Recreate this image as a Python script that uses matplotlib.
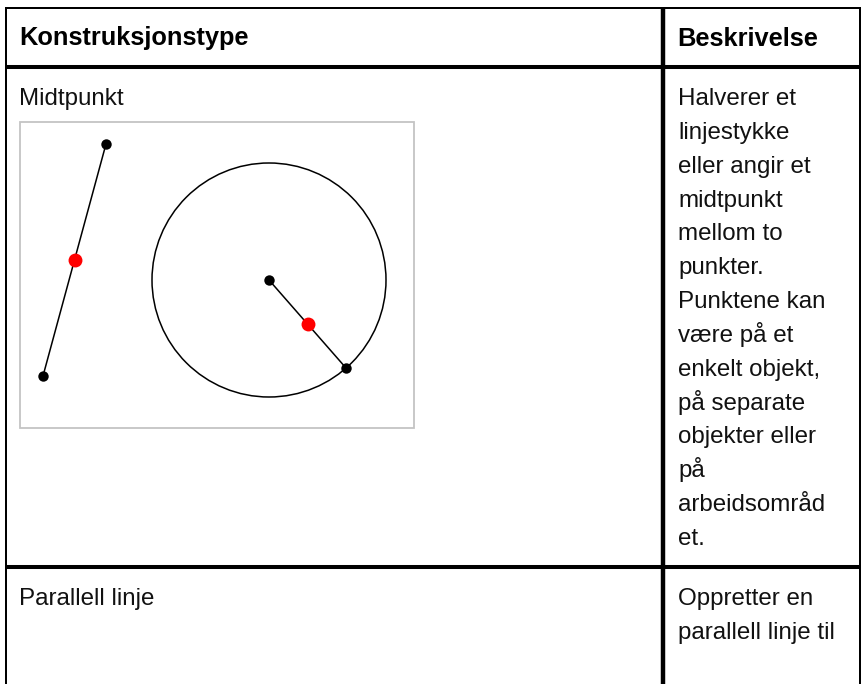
import numpy as np
import matplotlib
matplotlib.use('Agg')
import matplotlib.pyplot as plt
from matplotlib.patches import Circle, Rectangle

# all positions, in pixels
header_labels = ['Konstruksjonstype', 'Beskrivelse']
row_labels = ['Midtpunkt', 'Parallell linje']
desc_1 = ['Halverer et', 'linjestykke', 'eller angir et', 'midtpunkt', 'mellom to',
          'punkter.', 'Punktene kan', 'være på et', 'enkelt objekt,', 'på separate',
          'objekter eller', 'på', 'arbeidsområd', 'et.']
desc_2 = ['Oppretter en', 'parallell linje til']

segment_x = [106, 43]
segment_y = [144, 376]
segment_mid = (75, 260)
circle_center = (269, 280)
circle_r = 117
circle_pt = (346, 368)
radius_mid = (308, 324)

W, H = 861, 684
plt.rcParams['font.family'] = ['Liberation Sans', 'DejaVu Sans']

fig = plt.figure(figsize=(W / 100, H / 100), dpi=100)
ax = fig.add_axes([0, 0, 1, 1])
ax.set_xlim(0, W)
ax.set_ylim(H, 0)
ax.axis('off')

# table rules
ax.plot([6, 6], [7, H], color='black', lw=1.44, solid_capstyle='butt')
ax.plot([860, 860], [7, H], color='black', lw=1.44, solid_capstyle='butt')
ax.plot([663, 663], [7, H], color='black', lw=3.2, solid_capstyle='butt')
ax.plot([5, W], [8, 8], color='black', lw=1.44, solid_capstyle='butt')
ax.plot([5, W], [67, 67], color='black', lw=2.9, solid_capstyle='butt')
ax.plot([5, W], [567, 567], color='black', lw=2.9, solid_capstyle='butt')

FS = 17.4
FS_HEAD = 18.3
ax.text(19, 45.5, header_labels[0], fontsize=FS_HEAD, fontweight='bold', va='baseline', color='black')
ax.text(677, 45.5, header_labels[1], fontsize=FS_HEAD, fontweight='bold', va='baseline', color='black')
ax.text(19, 105, row_labels[0], fontsize=FS, va='baseline', color='#111111')
ax.text(19, 605, row_labels[1], fontsize=FS, va='baseline', color='#111111')

for i, line in enumerate(desc_1):
    ax.text(678, 105 + i * 33.85, line, fontsize=FS, va='baseline', color='#111111')
for i, line in enumerate(desc_2):
    ax.text(678, 605 + i * 33.5, line, fontsize=FS, va='baseline', color='#111111')

# figure inside the first row
ax.add_patch(Rectangle((20, 122), 394, 306, fill=False, ec='#c4c4c4', lw=1.3))
ax.add_patch(Circle(circle_center, circle_r, fill=False, ec='black', lw=1.1))
ax.plot(segment_x, segment_y, color='black', lw=1.1)
ax.plot([circle_center[0], circle_pt[0]], [circle_center[1], circle_pt[1]], color='black', lw=1.1)
ax.plot(segment_x, segment_y, 'o', color='black', ms=7.5, mew=0)
ax.plot(*circle_center, 'o', color='black', ms=7.5, mew=0)
ax.plot(*circle_pt, 'o', color='black', ms=7.5, mew=0)
ax.plot(*segment_mid, 'o', color='#ff0000', ms=10, mew=0)
ax.plot(*radius_mid, 'o', color='#ff0000', ms=10, mew=0)

fig.savefig('out.png', dpi=100)
